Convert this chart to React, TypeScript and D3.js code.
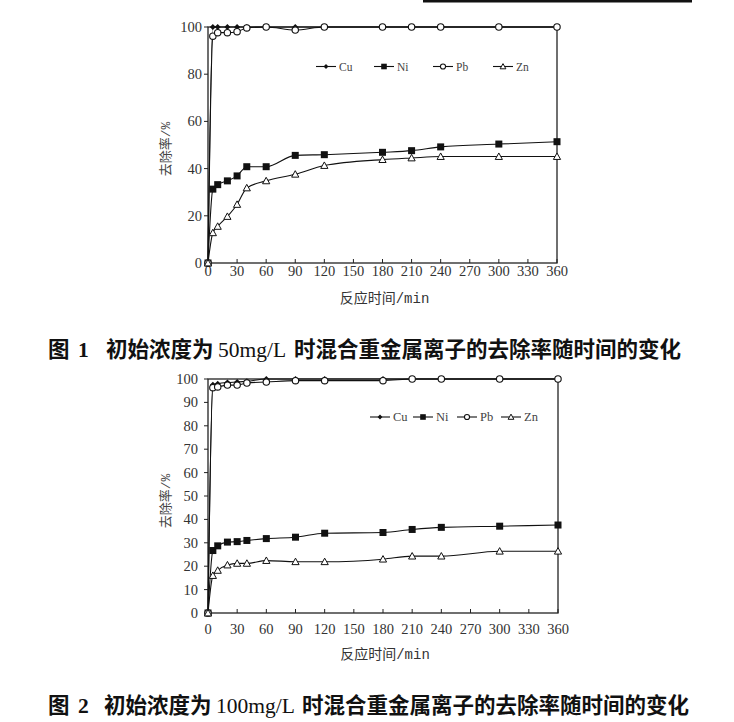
import React, { useEffect, useRef } from 'react';
import * as d3 from 'd3';

// sampling times (min), shared by both figures
const times = [0, 5, 10, 20, 30, 40, 60, 90, 120, 180, 210, 240, 300, 360];
const xTicks = [0, 30, 60, 90, 120, 150, 180, 210, 240, 270, 300, 330, 360];
const metals = ['Cu', 'Ni', 'Pb', 'Zn'];

// Fig. 1 : 50 mg/L
const cu50 = [0, 100, 100, 100, 100, 100, 100, 100, 100, 100, 100, 100, 100, 100];
const ni50 = [0, 31.3, 33.2, 34.8, 36.9, 40.8, 40.8, 45.6, 45.9, 46.9, 47.6, 49.2, 50.4, 51.4];
const pb50 = [0, 96.1, 97.6, 97.6, 98, 99.6, 100, 98.7, 100, 100, 100, 100, 100, 100];
const zn50 = [0, 12.8, 15.5, 19.7, 24.8, 31.8, 34.8, 37.6, 41.3, 43.8, 44.5, 45.1, 45.1, 45.1];
const yTicks50 = [0, 20, 40, 60, 80, 100];

// Fig. 2 : 100 mg/L
const cu100 = [0, 97.5, 98, 98.5, 98.7, 99, 100, 100, 100, 100, 100, 100, 100, 100];
const ni100 = [0, 26.7, 28.7, 30.3, 30.5, 31, 31.8, 32.4, 34.1, 34.4, 35.7, 36.6, 37.1, 37.6];
const pb100 = [0, 96.3, 96.6, 97.4, 97.4, 98.3, 98.7, 99.3, 99.3, 99.3, 100, 100, 100, 100];
const zn100 = [0, 16, 18.2, 20.5, 21.2, 21.2, 22.4, 21.9, 21.9, 23, 24.3, 24.3, 26.4, 26.4];
const yTicks100 = [0, 10, 20, 30, 40, 50, 60, 70, 80, 90, 100];

const SERIF = '"Liberation Serif", "DejaVu Serif", serif';
const CJK = '"Noto Sans CJK SC", sans-serif';
const MONO = '"Liberation Mono", "DejaVu Sans Mono", monospace';

interface ChartOpts {
  left: number;
  right: number;
  top: number;
  bottom: number;
  series: number[][];
  yTicks: number[];
  yLabelGap: number;
  xLabelOffset: number;
  xTitleY: number;
  yTitleX: number;
  yTitleY: number;
  legendY: number;
  legendX: number[];
  legendFont: number;
}

function drawMarker(
  g: d3.Selection<SVGGElement, unknown, null, undefined>,
  kind: string,
  x: number,
  y: number,
  s = 1,
) {
  if (kind === 'Cu') {
    const r = 3 * s;
    g.append('path')
      .attr('d', `M${x},${y - r}L${x + r},${y}L${x},${y + r}L${x - r},${y}Z`)
      .attr('fill', '#111');
  } else if (kind === 'Ni') {
    const h = 3.5 * s;
    g.append('rect')
      .attr('x', x - h).attr('y', y - h)
      .attr('width', h * 2).attr('height', h * 2)
      .attr('fill', '#111');
  } else if (kind === 'Pb') {
    g.append('circle')
      .attr('cx', x).attr('cy', y).attr('r', 3.2 * s)
      .attr('fill', '#fff').attr('stroke', '#111').attr('stroke-width', 1.1);
  } else {
    const h = 3.6 * s;
    g.append('path')
      .attr('d', `M${x},${y - h}L${x + h},${y + h * 0.8}L${x - h},${y + h * 0.8}Z`)
      .attr('fill', '#fff').attr('stroke', '#111').attr('stroke-width', 1);
  }
}

function drawChart(svg: d3.Selection<SVGSVGElement, unknown, null, undefined>, o: ChartOpts) {
  const x = d3.scaleLinear().domain([0, 360]).range([o.left, o.right]);
  const y = d3.scaleLinear().domain([0, 100]).range([o.bottom, o.top]);
  const g = svg.append('g');

  // frame
  g.append('rect')
    .attr('x', o.left).attr('y', o.top)
    .attr('width', o.right - o.left).attr('height', o.bottom - o.top)
    .attr('fill', 'none').attr('stroke', '#222').attr('stroke-width', 1.3);

  // x ticks (inside) + labels
  xTicks.forEach((t) => {
    g.append('line')
      .attr('x1', x(t)).attr('x2', x(t))
      .attr('y1', o.bottom).attr('y2', o.bottom - 4)
      .attr('stroke', '#222');
    g.append('text')
      .attr('x', x(t)).attr('y', o.bottom + o.xLabelOffset)
      .attr('text-anchor', 'middle')
      .attr('font-family', SERIF).attr('font-size', 14.5)
      .attr('fill', '#333')
      .text(t);
  });

  // y ticks + labels
  o.yTicks.forEach((v) => {
    g.append('line')
      .attr('x1', o.left).attr('x2', o.left - 4)
      .attr('y1', y(v)).attr('y2', y(v))
      .attr('stroke', '#222');
    g.append('text')
      .attr('x', o.left - o.yLabelGap).attr('y', y(v))
      .attr('dy', '0.35em')
      .attr('text-anchor', 'end')
      .attr('font-family', SERIF).attr('font-size', 14.5)
      .attr('fill', '#333')
      .text(v);
  });

  // axis titles
  const xt = g.append('text')
    .attr('x', (o.left + o.right) / 2 + 2).attr('y', o.xTitleY)
    .attr('text-anchor', 'middle')
    .attr('font-size', 14).attr('fill', '#333');
  xt.append('tspan').attr('font-family', CJK).text('反应时间');
  xt.append('tspan').attr('font-family', MONO).text('/min');

  const yt = g.append('text')
    .attr('transform', `translate(${o.yTitleX},${o.yTitleY}) rotate(-90)`)
    .attr('text-anchor', 'middle').attr('dy', '0.35em')
    .attr('font-size', 13).attr('fill', '#444');
  yt.append('tspan').attr('font-family', CJK).text('去除率');
  yt.append('tspan').attr('font-family', MONO).text('/%');

  // series
  const line = d3.line<number>()
    .x((_, i) => x(times[i]))
    .y((d) => y(d))
    .curve(d3.curveMonotoneX);

  o.series.forEach((vals, k) => {
    g.append('path')
      .attr('d', line(vals))
      .attr('fill', 'none')
      .attr('stroke', '#111')
      .attr('stroke-width', 1.1);
    vals.forEach((v, i) => drawMarker(g, metals[k], x(times[i]), y(v)));
  });

  // legend
  metals.forEach((m, k) => {
    const cx = o.legendX[k];
    g.append('line')
      .attr('x1', cx - 10).attr('x2', cx + 10)
      .attr('y1', o.legendY).attr('y2', o.legendY)
      .attr('stroke', '#111').attr('stroke-width', 1.1);
    drawMarker(g, m, cx, o.legendY, 0.8);
    g.append('text')
      .attr('x', cx + 13).attr('y', o.legendY)
      .attr('dy', '0.35em')
      .attr('font-family', SERIF).attr('font-size', o.legendFont)
      .attr('fill', '#444')
      .text(m);
  });
}

// caption pieces placed at measured x positions
function caption(
  svg: d3.Selection<SVGSVGElement, unknown, null, undefined>,
  yPos: number,
  num: string,
  conc: string,
  xs: number[],
) {
  const t = svg.append('text')
    .attr('y', yPos)
    .attr('font-size', 21.5).attr('fill', '#111');
  t.append('tspan').attr('x', xs[0]).attr('font-family', CJK).attr('font-weight', 'bold').text('图');
  t.append('tspan').attr('x', xs[1]).attr('font-family', SERIF).attr('font-weight', 'bold').text(num);
  t.append('tspan').attr('x', xs[2]).attr('font-family', CJK).attr('font-weight', 'bold').text('初始浓度为');
  t.append('tspan').attr('x', xs[3]).attr('font-family', SERIF).text(conc);
  t.append('tspan').attr('x', xs[4]).attr('font-family', CJK).attr('font-weight', 'bold')
    .text('时混合重金属离子的去除率随时间的变化');
}

export default function App() {
  const ref = useRef<SVGSVGElement>(null);

  useEffect(() => {
    if (!ref.current) return;
    const svg = d3.select(ref.current);
    svg.selectAll('*').remove();

    svg.append('rect').attr('width', 734).attr('height', 722).attr('fill', '#fff');
    svg.append('rect').attr('x', 423).attr('y', 0).attr('width', 269).attr('height', 2.5).attr('fill', '#111');

    drawChart(svg, {
      left: 208, right: 557, top: 27, bottom: 263,
      series: [cu50, ni50, pb50, zn50],
      yTicks: yTicks50,
      yLabelGap: 6,
      xLabelOffset: 13,
      xTitleY: 303,
      yTitleX: 165, yTitleY: 149,
      legendY: 66.5,
      legendX: [326, 384, 443, 503],
      legendFont: 11.5,
    });

    drawChart(svg, {
      left: 208, right: 558, top: 379, bottom: 613,
      series: [cu100, ni100, pb100, zn100],
      yTicks: yTicks100,
      yLabelGap: 10,
      xLabelOffset: 21,
      xTitleY: 659,
      yTitleX: 165, yTitleY: 501,
      legendY: 417,
      legendX: [380, 423, 467, 511],
      legendFont: 12.5,
    });

    caption(svg, 357, '1', '50mg/L', [48, 78, 106, 218, 294]);
    caption(svg, 713, '2', '100mg/L', [48, 78, 104, 216, 302]);
  }, []);

  return (
    <div style={{ position: 'absolute', left: 0, top: 0 }}>
      <svg ref={ref} width={734} height={722} style={{ display: 'block' }} />
    </div>
  );
}
